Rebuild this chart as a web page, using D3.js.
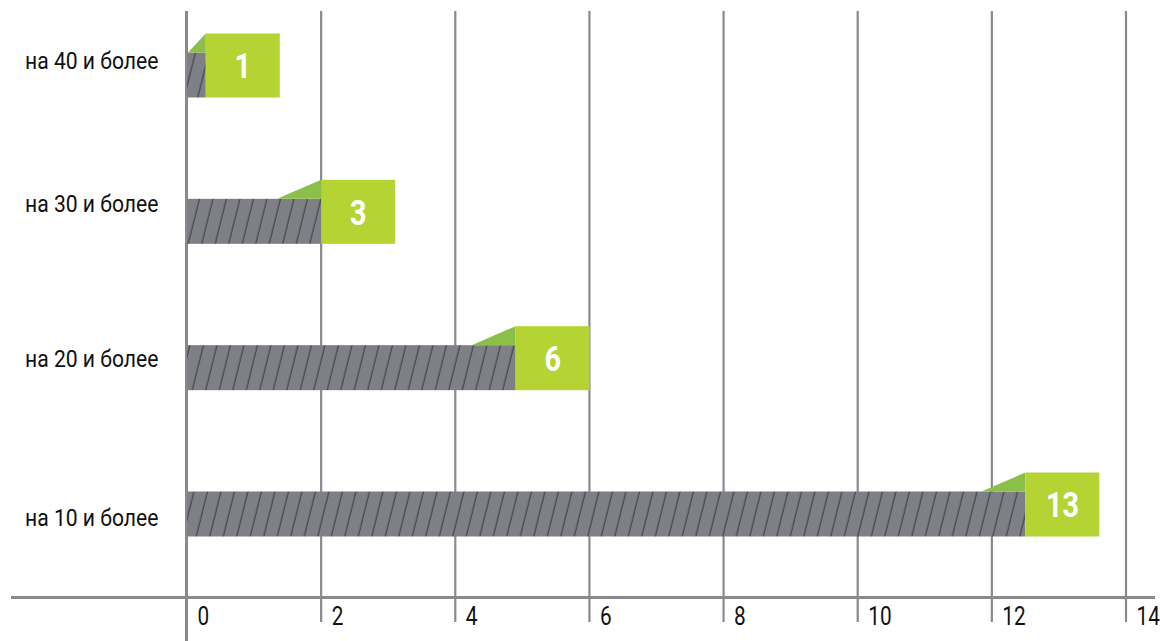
<!DOCTYPE html>
<html><head><meta charset="utf-8">
<script src="https://cdn.jsdelivr.net/npm/d3@7"></script>
<style>
html,body{margin:0;padding:0;background:#fff;}
svg{display:block;}
</style></head>
<body>
<svg id="chart" width="1160" height="641"></svg>
<script>
// ---- data ----
const categories = ["на 40 и более", "на 30 и более", "на 20 и более", "на 10 и более"];
const values = [1, 3, 6, 13];
// drawn length of the hatched part, in axis units
const barLengths = [0.28, 2.0, 4.9, 12.5];
const xTicks = [0, 2, 4, 6, 8, 10, 12, 14];

// ---- setup ----
const svg = d3.select("#chart");
const font = "Roboto, 'DejaVu Sans', sans-serif";
const gridColor = "#8a8a8e";
const barColor = "#7f8085";
const boxColor = "#b6d334";
const triColor = "#8cbf4a";
const narrow = 0.8; // horizontal condensation of text

const x = d3.scaleLinear().domain([0, 14]).range([187, 1126]);
const y = d3.scalePoint().domain(categories).range([75, 514]);
const barH = 45, boxW = 74, boxH = 64, triW = 44;

// hatch pattern
const defs = svg.append("defs");
const pat = defs.append("pattern")
  .attr("id", "hatch").attr("patternUnits", "userSpaceOnUse")
  .attr("width", 13.5).attr("height", 20)
  .attr("patternTransform", "skewX(-14)");
pat.append("rect").attr("width", 13.5).attr("height", 20).attr("fill", barColor);
pat.append("line").attr("x1", 6).attr("x2", 6).attr("y1", 0).attr("y2", 20)
  .attr("stroke", "#3c3c40").attr("stroke-width", 1.1);

// grid lines
svg.append("g").selectAll("line").data(xTicks.filter(d => d !== 0)).join("line")
  .attr("x1", d => x(d)).attr("x2", d => x(d))
  .attr("y1", 11).attr("y2", 622)
  .attr("stroke", gridColor).attr("stroke-width", 2.2);

// horizontal axis line
svg.append("line").attr("x1", 11).attr("x2", 1155).attr("y1", 597.5).attr("y2", 597.5)
  .attr("stroke", gridColor).attr("stroke-width", 3);

// zero line
svg.append("line").attr("x1", x(0) - 0.5).attr("x2", x(0) - 0.5).attr("y1", 11).attr("y2", 641)
  .attr("stroke", gridColor).attr("stroke-width", 3);

// tick labels via d3 axis
const axis = d3.axisBottom(x).tickValues(xTicks).tickSize(0).tickPadding(0);
const ax = svg.append("g").attr("transform", "translate(0,625)").call(axis);
ax.select(".domain").remove();
ax.selectAll(".tick text")
  .attr("text-anchor", "start")
  .attr("y", 0).attr("dy", 0)
  .attr("transform", `translate(10,0) scale(${narrow},1)`)
  .attr("font-family", font).attr("font-size", 26).attr("fill", "#111");

// bars
const rows = categories.map((c, i) => ({c, v: values[i], len: barLengths[i]}));
const g = svg.append("g");
rows.forEach(r => {
  const cy = y(r.c);
  const xe = x(r.len);
  const top = cy - barH / 2;
  g.append("rect").attr("x", x(0)).attr("y", top)
    .attr("width", xe - x(0)).attr("height", barH).attr("fill", "url(#hatch)");
  // triangle (clipped at zero line)
  const x0 = Math.max(x(0) + 1, xe - triW);
  g.append("path")
    .attr("d", `M${x0},${top} L${xe},${top - (boxH - barH)} L${xe},${top} Z`)
    .attr("fill", triColor);
  // box
  g.append("rect").attr("x", xe).attr("y", top + barH - boxH)
    .attr("width", boxW).attr("height", boxH).attr("fill", boxColor);
  g.append("text")
    .attr("transform", `translate(${xe + boxW / 2},${top + barH - boxH / 2}) scale(${narrow},1)`)
    .attr("text-anchor", "middle").attr("dy", "0.36em")
    .attr("font-family", font).attr("font-weight", "bold")
    .attr("font-size", 36).attr("fill", "#fff").text(r.v);
});

// category labels
const labelOffsets = [-15, -18, -9, 3];
svg.append("g").selectAll("text").data(categories).join("text")
  .attr("transform", (d, i) => `translate(25,${y(d) + labelOffsets[i]}) scale(0.88,1)`)
  .attr("dy", "0.36em")
  .attr("font-family", font).attr("font-size", 24).attr("fill", "#111")
  .text(d => d);
</script>
</body></html>
